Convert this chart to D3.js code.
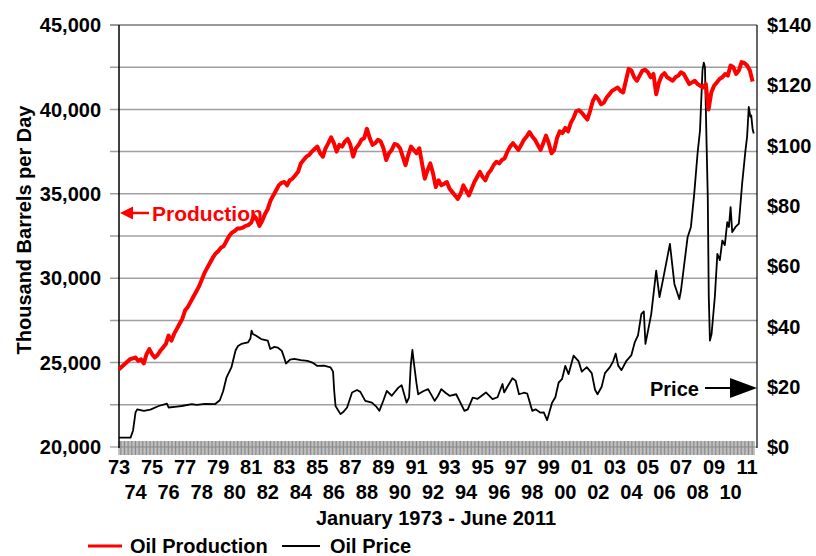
<!DOCTYPE html>
<html><head><meta charset="utf-8">
<script src="https://cdn.jsdelivr.net/npm/d3@7"></script>
<style>
body{margin:0;background:#fff}
svg{display:block}
text{font-family:"Liberation Sans",Arial,sans-serif;font-weight:bold}
</style>
</head><body>
<svg id="c" width="816" height="556"></svg>
<script>
// ---------- DATA ----------
const startYear = 1973;
const endYear = 1973 + 461 / 12;   // June 2011
// Oil production, thousand barrels per day, every 2 months from Jan 1973
const prodValues = [
 24600,24750,24900,25050,25200,25250,
 25300,25100,25200,24950,25500,25800,
 25500,25300,25450,25700,25900,26100,
 26600,26300,26700,27000,27300,27600,
 28100,28300,28600,28900,29200,29500,
 29900,30300,30600,30900,31200,31450,
 31600,31800,31900,32200,32500,32700,
 32800,32950,32950,33000,33100,33150,
 33300,33700,33500,33100,33400,33800,
 34100,34600,34900,35200,35500,35650,
 35700,35500,35800,35900,36100,36300,
 36800,37000,37200,37300,37500,37650,
 37800,37400,37200,37700,38000,38350,
 38000,37500,37900,37800,38100,38250,
 37900,37200,37700,37900,38200,38300,
 38850,38300,37900,38000,38200,38100,
 37700,37000,37400,37600,37950,37900,
 37700,37200,36700,37300,37800,37600,
 37400,37700,36800,35900,36400,36800,
 36200,35400,35800,35500,35600,35700,
 35300,35100,34900,34700,35000,35500,
 35200,34900,35300,35700,36000,36300,
 36000,35800,36200,36400,36700,36900,
 36800,37000,37100,37500,37800,38000,
 37800,37600,37900,38200,38400,38650,
 38400,38200,37900,37600,38000,38450,
 38000,37400,37600,38300,38700,38600,
 38900,38700,39200,39500,39900,39950,
 39800,39600,39400,39900,40500,40800,
 40600,40300,40400,40700,40900,41100,
 41200,41300,41100,41000,41700,42400,
 42300,41900,41700,42000,42300,42350,
 42200,41900,42100,40900,41600,42000,
 42150,41900,41800,41700,41900,42000,
 42200,42100,41800,41500,41600,41700,
 41500,41400,41300,41500,40000,41000,
 41400,41600,41800,41900,42100,42000,
 42600,42500,42100,42300,42800,42750,
 42600,42300,41650
];
// Oil price, $ per barrel, at the dates (decimal years) below
const priceYears = [
 1973.00,1973.70,1973.85,1974.00,1974.10,1974.50,1974.90,1975.40,1975.90,1976.00,
 1976.50,1976.80,1977.40,1977.70,1978.20,1978.80,1979.10,1979.30,1979.50,1979.80,
 1980.05,1980.20,1980.40,1980.80,1980.95,1981.02,1981.10,1981.30,1981.60,1982.00,
 1982.15,1982.40,1982.60,1982.85,1983.00,1983.10,1983.35,1983.60,1984.00,1984.40,
 1984.70,1985.00,1985.40,1985.80,1985.95,1986.02,1986.10,1986.40,1986.60,1986.80,
 1987.10,1987.40,1987.60,1987.90,1988.30,1988.55,1988.75,1989.00,1989.20,1989.50,
 1989.90,1990.10,1990.40,1990.55,1990.65,1990.75,1990.85,1991.00,1991.10,1991.40,
 1991.70,1992.10,1992.30,1992.50,1992.75,1993.00,1993.40,1993.90,1994.10,1994.40,
 1994.70,1995.20,1995.60,1995.90,1996.20,1996.30,1996.55,1996.80,1997.00,1997.20,
 1997.50,1997.70,1998.00,1998.20,1998.50,1998.70,1998.90,1999.20,1999.40,1999.60,
 1999.80,2000.00,2000.20,2000.50,2000.80,2001.00,2001.30,2001.60,2001.80,2001.95,
 2002.20,2002.40,2002.70,2002.90,2003.05,2003.20,2003.40,2003.70,2004.00,2004.20,
 2004.40,2004.60,2004.75,2004.85,2005.20,2005.50,2005.70,2005.90,2006.33,2006.60,
 2006.90,2007.00,2007.40,2007.60,2007.80,2008.00,2008.15,2008.30,2008.38,2008.45,
 2008.55,2008.62,2008.68,2008.75,2008.85,2009.05,2009.20,2009.35,2009.50,2009.65,
 2009.80,2009.90,2010.00,2010.10,2010.30,2010.50,2010.70,2010.90,2011.00,2011.10,
 2011.20,2011.25,2011.33,2011.40
];
const priceValues = [
 3.1,3.1,5.5,11.5,12.5,12.0,12.4,13.6,14.4,13.1,
 13.4,13.6,14.2,14.0,14.3,14.2,15.5,18.5,23.0,26.4,
 32.0,33.5,34.2,34.7,36.0,38.6,37.5,36.9,35.8,35.3,
 32.5,33.2,33.0,31.9,29.5,27.7,29.0,29.2,28.8,28.6,
 28.0,26.9,27.0,26.4,25.0,18.6,13.6,10.9,11.8,13.1,
 18.1,18.9,18.3,15.3,14.7,13.5,12.0,15.5,18.6,17.0,
 19.7,20.5,14.7,16.5,27.0,32.2,27.5,21.0,17.5,18.5,
 19.2,15.3,17.0,19.2,18.0,17.0,17.5,12.0,12.5,16.4,
 16.0,18.1,15.9,16.5,20.9,18.1,20.5,22.8,22.0,17.5,
 18.0,17.7,12.0,12.5,11.4,11.5,8.9,14.7,16.5,21.4,
 22.5,26.9,24.2,30.3,28.5,25.0,26.5,24.5,19.0,17.5,
 20.0,24.5,26.5,28.5,31.0,27.0,25.5,28.6,30.5,34.7,
 37.0,44.1,45.0,34.2,44.1,58.5,49.7,55.2,67.4,54.1,
 49.1,52.0,69.6,73.0,84.0,97.3,105.0,125.0,127.5,126.0,
 100.0,82.9,50.0,35.3,37.5,50.0,64.1,62.0,68.5,67.0,
 74.6,73.0,79.6,71.3,73.0,74.1,87.4,98.4,103.0,112.8,
 109.5,110.0,105.6,104.0
];
const yearLabels = ["73","74","75","76","77","78","79","80","81","82","83","84","85","86","87","88","89","90","91","92","93","94","95","96","97","98","99","00","01","02","03","04","05","06","07","08","09","10","11"];
const leftTicks = [20000,25000,30000,35000,40000,45000];
const gridValues = [22500,25000,27500,30000,32500,35000,37500,40000,42500,45000];
const rightTicks = [0,20,40,60,80,100,120,140];
const seriesNames = ["Oil Production","Oil Price"];
const seriesColors = ["#ff0000","#000000"];

// ---------- SCALES ----------
const svg = d3.select("#c");
const X0 = 119, X1 = 754, RIGHT = 757, TOP = 25, BOTTOM = 447;
const x = d3.scaleLinear().domain([startYear, endYear]).range([X0, X1]);
const yL = d3.scaleLinear().domain([20000, 45000]).range([BOTTOM, TOP]);
const yR = d3.scaleLinear().domain([0, 140]).range([BOTTOM, TOP]);

// gridlines
svg.append("g").selectAll("line").data(gridValues).join("line")
  .attr("x1", 110).attr("x2", RIGHT)
  .attr("y1", d => yL(d)).attr("y2", d => yL(d))
  .attr("stroke", d => d === 45000 ? "#777" : "#a0a0a0").attr("stroke-width", 1.5);

// monthly tick hatch on the x axis
const months = d3.range(0, 462).map(i => startYear + i / 12);
svg.append("g").selectAll("line").data(months).join("line")
  .attr("x1", d => x(d)).attr("x2", d => x(d))
  .attr("y1", BOTTOM - 6).attr("y2", BOTTOM + 8)
  .attr("stroke", "#8a8a8a").attr("stroke-width", 1);
svg.append("line").attr("x1", 110).attr("x2", RIGHT).attr("y1", BOTTOM).attr("y2", BOTTOM)
  .attr("stroke", "#888").attr("stroke-width", 1.2);

// axes lines
svg.append("line").attr("x1", X0).attr("x2", X0).attr("y1", TOP).attr("y2", BOTTOM + 1)
  .attr("stroke", "#000").attr("stroke-width", 1.5);
svg.append("line").attr("x1", RIGHT).attr("x2", RIGHT).attr("y1", TOP).attr("y2", BOTTOM + 1)
  .attr("stroke", "#000").attr("stroke-width", 1.2);

// left tick labels
svg.append("g").selectAll("text").data(leftTicks).join("text")
  .attr("x", 101).attr("y", d => yL(d)).attr("dy", "0.36em")
  .attr("text-anchor", "end").attr("font-size", 20)
  .text(d => d3.format(",")(d));
// right tick labels
svg.append("g").selectAll("text").data(rightTicks).join("text")
  .attr("x", 767).attr("y", d => yR(d)).attr("dy", "0.36em")
  .attr("text-anchor", "start").attr("font-size", 20)
  .text(d => "$" + d);

// year labels (two rows)
svg.append("g").selectAll("text").data(yearLabels).join("text")
  .attr("x", (d, i) => x(startYear + i))
  .attr("y", (d, i) => i % 2 === 0 ? 474 : 499)
  .attr("text-anchor", "middle").attr("font-size", 20)
  .text(d => d);

// axis titles
svg.append("text").attr("transform", "translate(31,230) rotate(-90)")
  .attr("text-anchor", "middle").attr("font-size", 20).text("Thousand Barrels per Day");
svg.append("text").attr("x", 436).attr("y", 525)
  .attr("text-anchor", "middle").attr("font-size", 20).text("January 1973 - June 2011");

// annotations
svg.append("text").attr("x", 152).attr("y", 221).attr("font-size", 21)
  .attr("fill", "#ff0000").text("Production");
svg.append("line").attr("x1", 130).attr("x2", 149).attr("y1", 213).attr("y2", 213)
  .attr("stroke", "#ff0000").attr("stroke-width", 2.5);
svg.append("path").attr("d", "M120,213 L133,206.5 L133,219.5 Z").attr("fill", "#ff0000");

svg.append("text").attr("x", 650).attr("y", 396).attr("font-size", 20)
  .attr("fill", "#000").text("Price");
svg.append("line").attr("x1", 705).attr("x2", 732).attr("y1", 388).attr("y2", 388)
  .attr("stroke", "#000").attr("stroke-width", 2);
svg.append("path").attr("d", "M730,378 L757,388 L730,398 Z").attr("fill", "#000");

// lines
const prodPts = prodValues.map((v, i) => [startYear + i * 2 / 12, v]);
const pricePts = priceValues.map((v, i) => [priceYears[i], v]);
svg.append("path").datum(pricePts)
  .attr("d", d3.line().x(d => x(d[0])).y(d => yR(d[1])))
  .attr("fill", "none").attr("stroke", seriesColors[1]).attr("stroke-width", 1.8)
  .attr("stroke-linejoin", "round");
svg.append("path").datum(prodPts)
  .attr("d", d3.line().x(d => x(d[0])).y(d => yL(d[1])))
  .attr("fill", "none").attr("stroke", seriesColors[0]).attr("stroke-width", 4)
  .attr("stroke-linejoin", "round");

// legend
const leg = [{x1: 88, x2: 122, tx: 130}, {x1: 282, x2: 320, tx: 330}];
leg.forEach((L, i) => {
  svg.append("line").attr("x1", L.x1).attr("x2", L.x2).attr("y1", 546).attr("y2", 546)
    .attr("stroke", seriesColors[i]).attr("stroke-width", i === 0 ? 3 : 1.8);
  svg.append("text").attr("x", L.tx).attr("y", 546).attr("dy", "0.35em")
    .attr("font-size", 20).text(seriesNames[i]);
});
</script>
</body></html>
